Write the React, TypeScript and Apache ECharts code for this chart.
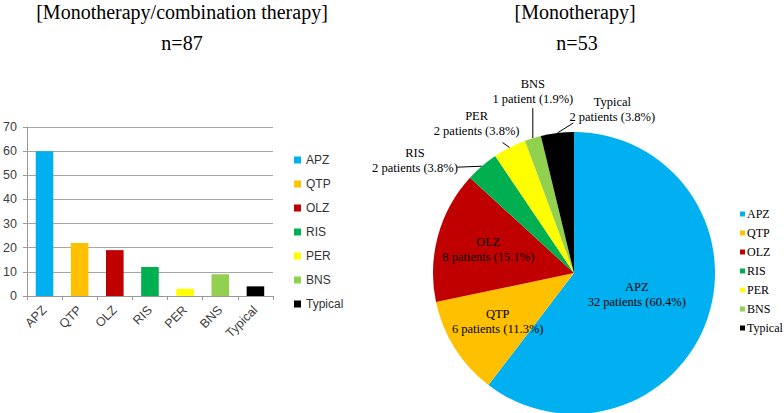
import React, { useEffect, useRef } from 'react';
import * as echarts from 'echarts';

const categories = ['APZ', 'QTP', 'OLZ', 'RIS', 'PER', 'BNS', 'Typical'];
const barValues = [60, 22, 19, 12, 3, 9, 4];
const pieValues = [32, 6, 8, 2, 2, 1, 2];
const colors = ['#00B0F0', '#FFC000', '#C00000', '#00B050', '#FFFF00', '#92D050', '#000000'];
const yMin = 0;
const yMax = 70;
const yInterval = 10;
const leftTitle = '[Monotherapy/combination therapy]';
const leftN = 'n=87';
const rightTitle = '[Monotherapy]';
const rightN = 'n=53';

// pie geometry
const PIE_CX = 574;
const PIE_CY = 273;
const PIE_R = 141;
// radial fraction for labels placed inside slices
const insideRadius: Record<number, number> = { 0: 0.47, 1: 0.64, 2: 0.63 };
// offsets relative to slice edge point for outside labels
const outsideCfg: Record<number, { label: [number, number]; line: [number, number] }> = {
  3: { label: [-67, -6], line: [-25, 1] },
  4: { label: [-33, -24], line: [-7, -5] },
  5: { label: [0, -47], line: [0, -30] },
  6: { label: [55, -23], line: [16, -10] },
};

const serif = 'Liberation Serif, Times New Roman, serif';
const sans = 'Liberation Sans, Arial, sans-serif';

export default function App() {
  const ref = useRef<HTMLDivElement>(null);
  useEffect(() => {
    if (!ref.current) return;
    const chart = echarts.init(ref.current, undefined, { renderer: 'svg' });
    const total = pieValues.reduce((a, b) => a + b, 0);
    const titleStyle = { fontFamily: serif, fontSize: 20, fontWeight: 'normal' as const, color: '#000' };
    const option: any = {
      animation: false,
      title: [
        { text: leftTitle, left: 182, top: 2, textAlign: 'center', padding: 0, textStyle: titleStyle },
        { text: leftN, left: 182, top: 33, textAlign: 'center', padding: 0, textStyle: titleStyle },
        { text: rightTitle, left: 575, top: 2, textAlign: 'center', padding: 0, textStyle: titleStyle },
        { text: rightN, left: 577, top: 33, textAlign: 'center', padding: 0, textStyle: titleStyle },
      ],
      legend: [
        {
          data: categories,
          orient: 'vertical',
          left: 294,
          top: 154,
          itemWidth: 7,
          itemHeight: 7,
          itemGap: 12,
          icon: 'rect',
          selectedMode: false,
          padding: 0,
          textStyle: { fontFamily: sans, fontSize: 12, color: '#333' },
        },
        {
          data: categories,
          orient: 'vertical',
          left: 740,
          top: 208,
          itemWidth: 5,
          itemHeight: 5,
          itemGap: 7,
          icon: 'rect',
          selectedMode: false,
          padding: 0,
          textStyle: { fontFamily: serif, fontSize: 12, color: '#000', padding: [0, 0, 0, -3] },
        },
      ],
      grid: { left: 26, top: 127, width: 247, height: 169 },
      xAxis: {
        type: 'category',
        data: categories,
        axisLine: { lineStyle: { color: '#999' } },
        axisTick: { show: true, length: 4, lineStyle: { color: '#999' } },
        axisLabel: { rotate: 45, interval: 0, fontSize: 12.5, fontFamily: sans, color: '#404040', margin: 12 },
      },
      yAxis: {
        type: 'value',
        min: yMin,
        max: yMax,
        interval: yInterval,
        axisLine: { show: true, lineStyle: { color: '#999' } },
        axisTick: { show: true, length: 4, lineStyle: { color: '#999' } },
        splitLine: { lineStyle: { color: '#a6a6a6' } },
        axisLabel: { fontSize: 12.5, fontFamily: sans, color: '#404040', margin: 10 },
      },
      series: [
        ...categories.map((name, i) => ({
          type: 'bar',
          name,
          stack: 'all',
          barWidth: '50%',
          data: barValues.map((v, j) => (j === i ? v : '-')),
          itemStyle: { color: colors[i] },
        })),
        {
          type: 'pie',
          name: 'Monotherapy',
          center: [PIE_CX, PIE_CY],
          radius: PIE_R,
          startAngle: 90,
          clockwise: true,
          avoidLabelOverlap: false,
          label: {
            show: true,
            position: 'outside',
            fontFamily: serif,
            fontSize: 12.5,
            lineHeight: 15,
            color: '#000',
            formatter: (p: any) =>
              `${p.name}\n${p.value} patient${p.value === 1 ? '' : 's'} (${(p.value / total * 100).toFixed(1)}%)`,
          },
          labelLine: { show: true, length: 10, length2: 10, lineStyle: { color: '#000', width: 1 } },
          labelLayout: (p: any) => {
            const i = p.dataIndex;
            let cum = 0;
            for (let j = 0; j < i; j++) cum += pieValues[j];
            const theta = (2 * Math.PI * (cum + pieValues[i] / 2)) / total;
            const sx = Math.sin(theta);
            const sy = -Math.cos(theta);
            if (insideRadius[i] != null) {
              const f = insideRadius[i];
              return { x: PIE_CX + f * PIE_R * sx, y: PIE_CY + f * PIE_R * sy, align: 'center', verticalAlign: 'middle' };
            }
            const o = outsideCfg[i];
            const ex = PIE_CX + PIE_R * sx;
            const ey = PIE_CY + PIE_R * sy;
            const lx = ex + o.line[0];
            const ly = ey + o.line[1];
            return {
              x: ex + o.label[0],
              y: ey + o.label[1],
              align: 'center',
              verticalAlign: 'middle',
              labelLinePoints: [[ex, ey], [lx, ly], [lx, ly]],
            };
          },
          data: categories.map((name, i) => ({
            name,
            value: pieValues[i],
            itemStyle: { color: colors[i] },
            label: insideRadius[i] != null ? { position: 'inside' } : undefined,
            labelLine: insideRadius[i] != null ? { show: false } : undefined,
          })),
        },
      ],
    };
    chart.setOption(option);
    return () => chart.dispose();
  }, []);
  return <div ref={ref} style={{ position: 'absolute', left: 0, top: 0, width: 784, height: 413 }} />;
}
